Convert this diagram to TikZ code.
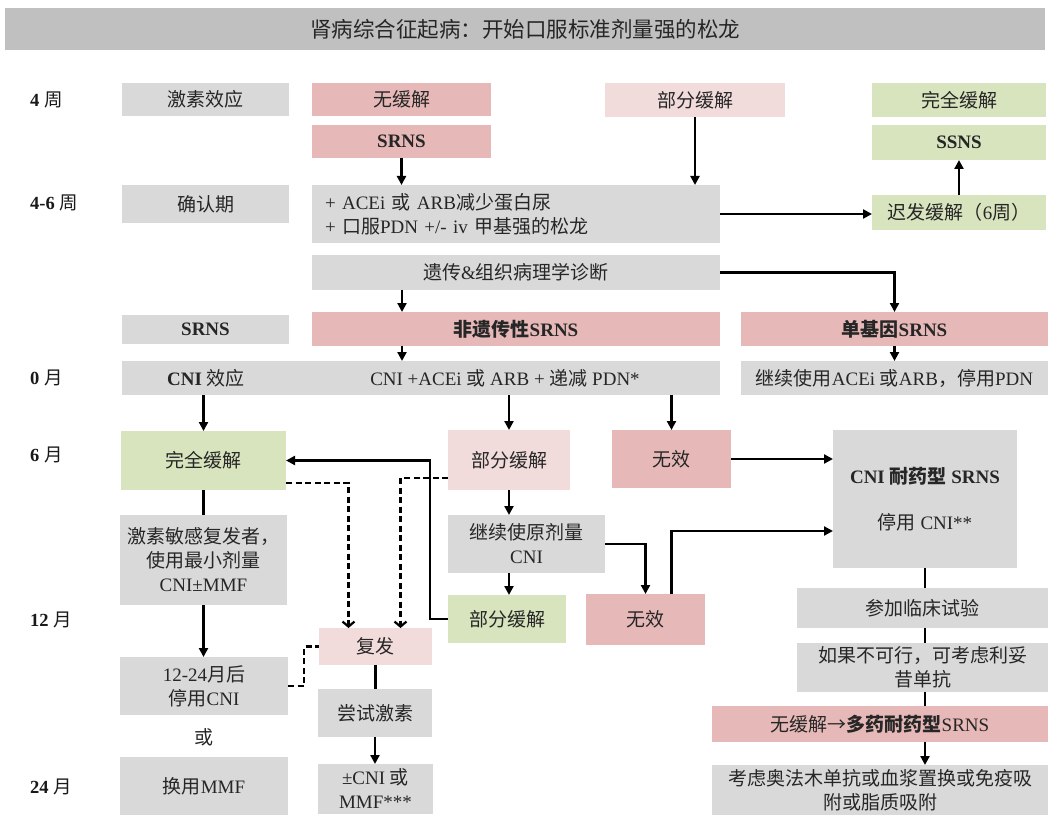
\documentclass[tikz,border=0pt]{standalone}
\usepackage{fontspec}
\setmainfont{Liberation Serif}
\newfontfamily\cjk{Noto Sans CJK SC}
\usetikzlibrary{arrows.meta,calc}
\newcommand\zh[1]{{\cjk #1}}
\newcommand\zhb[1]{{\cjk\bfseries #1}}
\definecolor{boxgray}{HTML}{D9D9D9}
\definecolor{hdrgray}{HTML}{C0C0C0}
\definecolor{pinkd}{HTML}{E6B9B8}
\definecolor{pinkl}{HTML}{F2DCDB}
\definecolor{greenl}{HTML}{D7E4BD}
\newcommand\bx[6]{\node[#6,minimum width={(#3-#1)*1pt},minimum height={(#4-#2)*1pt}] (#5) at ({(#1+#3)/2},{(#2+#4)/2})}
\tikzset{
  bxs/.style={inner sep=0pt,outer sep=0pt,align=center,font=\fontsize{19}{24}\selectfont,text=black!85},
  grayb/.style={bxs,fill=boxgray},
  hdrb/.style={bxs,fill=hdrgray,font=\fontsize{21.5}{25}\selectfont},
  pinkb/.style={bxs,fill=pinkd},
  lpinkb/.style={bxs,fill=pinkl},
  greenb/.style={bxs,fill=greenl},
  lbl/.style={anchor=west,inner sep=0pt,font=\fontsize{18.5}{22}\selectfont,text=black!90},
  plainl/.style={inner sep=0pt,font=\fontsize{19}{22}\selectfont,text=black!85},
  conn/.style={line width=2.2pt,-{Triangle[length=9pt,width=9pt]}},
  link/.style={line width=2.2pt},
  dconn/.style={line width=2.2pt,dash pattern=on 6pt off 3.5pt,-{Straight Barb[length=5pt,width=12pt]}},
  dlink/.style={line width=2.2pt,dash pattern=on 6pt off 3.5pt},
}
\begin{document}
\begin{tikzpicture}[x=1pt,y=-1pt]
\fill[white] (0,0) rectangle (1049,818);
\useasboundingbox (0,0) rectangle (1049,818);

% header
\bx{5}{8}{1045}{50}{hdr}{hdrb} {\zh{肾病综合征起病：开始口服标准剂量强的松龙}};

% time labels
\node[lbl] (t1) at (30,100) {\textbf{4} \zh{周}};
\node[lbl] (t2) at (30,203) {\textbf{4-6} \zh{周}};
\node[lbl] (t3) at (30,378) {\textbf{0} \zh{月}};
\node[lbl] (t4) at (30,455) {\textbf{6} \zh{月}};
\node[lbl] (t5) at (30,620) {\textbf{12} \zh{月}};
\node[lbl] (t6) at (30,787) {\textbf{24} \zh{月}};

% rows 4 weeks
\bx{122}{83}{289}{116}{g_steroid}{grayb} {\zh{激素效应}};
\bx{312}{83}{491}{116}{p_nr}{pinkb} {\zh{无缓解}};
\bx{605}{83}{785}{117}{lp_pr}{lpinkb} {\zh{部分缓解}};
\bx{872}{83}{1046}{117}{gr_cr}{greenb} {\zh{完全缓解}};
\bx{312}{125}{491}{158}{p_srns}{pinkb} {\textbf{SRNS}};
\bx{872}{125}{1046}{160}{gr_ssns}{greenb} {\textbf{SSNS}};

% 4-6 weeks
\bx{122}{185}{289}{223}{g_confirm}{grayb} {\zh{确认期}};
\bx{312}{185}{720}{243}{g_acei}{grayb,text width={(720-312-26)*1pt},align=left,inner xsep=13pt}
  {+ ACEi \zh{或} ARB\zh{减少蛋白尿}\\+ \zh{口服}PDN +/- iv \zh{甲基强的松龙}};
\bx{872}{195}{1046}{230}{gr_late}{greenb} {\zh{迟发缓解（}6\zh{周）}};

% genetics
\bx{312}{255}{720}{290}{g_gen}{grayb} {\zh{遗传}\&\zh{组织病理学诊断}};
\bx{122}{315}{289}{344}{g_srns2}{grayb} {\textbf{SRNS}};
\bx{312}{312}{720}{346}{p_nong}{pinkb} {\zhb{非遗传性}\textbf{SRNS}};
\bx{741}{312}{1048}{346}{p_mono}{pinkb} {\zhb{单基因}\textbf{SRNS}};

% 0 month
\bx{122}{361}{290}{395}{g_cnieff}{grayb} {\textbf{CNI} \zh{效应}};
\bx{290}{361}{720}{395}{g_cnirow}{grayb} {CNI +ACEi \zh{或} ARB + \zh{递减} PDN*};
\bx{741}{361}{1048}{395}{g_cont}{grayb} {\zh{继续使用}ACEi \zh{或}ARB\zh{，停用}PDN};

% 6 months
\bx{121}{431}{286}{490}{gr_cr2}{greenb} {\zh{完全缓解}};
\bx{448}{430}{570}{490}{lp_pr2}{lpinkb} {\zh{部分缓解}};
\bx{612}{430}{731}{488}{p_ineff}{pinkb} {\zh{无效}};
\bx{833}{430}{1017}{568}{g_cnires}{grayb} {\textbf{CNI} \zhb{耐药型} \textbf{SRNS}\\[22pt]\zh{停用} CNI**};
\bx{120}{515}{287}{605}{g_sens}{grayb} {\zh{激素敏感复发者，}\\\zh{使用最小剂量}\\CNI±MMF};
\bx{448}{515}{605}{573}{g_keep}{grayb} {\zh{继续使原剂量}\\CNI};

% 12 months
\bx{448}{595}{566}{643}{gr_pr3}{greenb} {\zh{部分缓解}};
\bx{586}{594}{705}{645}{p_ineff2}{pinkb} {\zh{无效}};
\bx{319}{628}{432}{665}{lp_rel}{lpinkb} {\zh{复发}};
\bx{120}{657}{288}{715}{g_stop}{grayb} {12-24\zh{月后}\\\zh{停用}CNI};
\node[plainl] (or_txt) at (204,737) {\zh{或}};
\bx{318}{689}{432}{737}{g_try}{grayb} {\zh{尝试激素}};
\bx{120}{757}{288}{815}{g_mmf}{grayb} {\zh{换用}MMF};
\bx{318}{764}{433}{814}{g_cnimmf}{grayb} {±CNI \zh{或}\\MMF***};

% right column
\bx{797}{588}{1048}{628}{g_trial}{grayb} {\zh{参加临床试验}};
\bx{797}{643}{1048}{692}{g_ritux}{grayb} {\zh{如果不可行，可考虑利妥}\\\zh{昔单抗}};
\bx{712}{706}{1048}{742}{p_multi}{pinkb} {\zh{无缓解→}\zhb{多药耐药型}SRNS};
\bx{712}{765}{1048}{815}{g_ofa}{grayb} {\zh{考虑奥法木单抗或血浆置换或免疫吸}\\\zh{附或脂质吸附}};

% connectors
\draw[conn] (p_srns.south) -- (p_srns.south |- g_acei.north);
\draw[conn] (lp_pr.south) -- (lp_pr.south |- g_acei.north);
\draw[conn] (g_acei.east) -- (g_acei.east -| gr_late.west);
\draw[conn] (gr_late.north) -- (gr_ssns.south);
\draw[conn] ($(g_gen.south west)+(90,0)$) coordinate (e1) -- (e1 |- p_nong.north);
\draw[conn] (g_gen.east) -| (p_mono.north);
\draw[conn] (e1 |- p_nong.south) -- (e1 |- g_cnirow.north);
\draw[conn] (p_mono.south) -- (p_mono.south |- g_cont.north);
\draw[conn] (gr_cr2.north |- g_cnieff.south) -- (gr_cr2.north);
\draw[conn] (lp_pr2.north |- g_cnirow.south) -- (lp_pr2.north);
\draw[conn] (p_ineff.north |- g_cnirow.south) -- (p_ineff.north);
\draw[conn] (p_ineff.east) -- (p_ineff.east -| g_cnires.west);
\draw[link] (gr_cr2.south) -- (gr_cr2.south |- g_sens.north);
\draw[conn] (g_sens.south) -- (g_sens.south |- g_stop.north);
\draw[conn] (lp_pr2.south) -- (lp_pr2.south |- g_keep.north);
\draw[conn] (lp_pr2.south |- g_keep.south) -- (lp_pr2.south |- gr_pr3.north);
\draw[conn] (g_keep.east) -| (p_ineff2.north);
\draw[conn] ($(p_ineff2.north)+(26,0)$) |- ($(g_cnires.west)+(0,32)$);
\draw[conn] (gr_pr3.west) -- ++(-18,0) |- (gr_cr2.east);
\draw[dconn] ($(gr_cr2.south east)+(0,-7)$) -| ($(lp_rel.north)+(-27,0)$);
\draw[dconn] ($(lp_pr2.west)+(0,18)$) -| ($(lp_rel.north)+(25,0)$);
\draw[dlink] (g_stop.east) -- ++(16,0) |- (lp_rel.west);
\draw[link] (lp_rel.south) -- (lp_rel.south |- g_try.north);
\draw[conn] (g_try.south) -- (g_try.south |- g_cnimmf.north);
\draw[link] (g_cnires.south) -- (g_cnires.south |- g_trial.north);
\draw[link] (g_cnires.south |- g_trial.south) -- (g_cnires.south |- g_ritux.north);
\draw[link] (g_cnires.south |- g_ritux.south) -- (g_cnires.south |- p_multi.north);
\draw[conn] (g_cnires.south |- p_multi.south) -- (g_cnires.south |- g_ofa.north);
\end{tikzpicture}
\end{document}
